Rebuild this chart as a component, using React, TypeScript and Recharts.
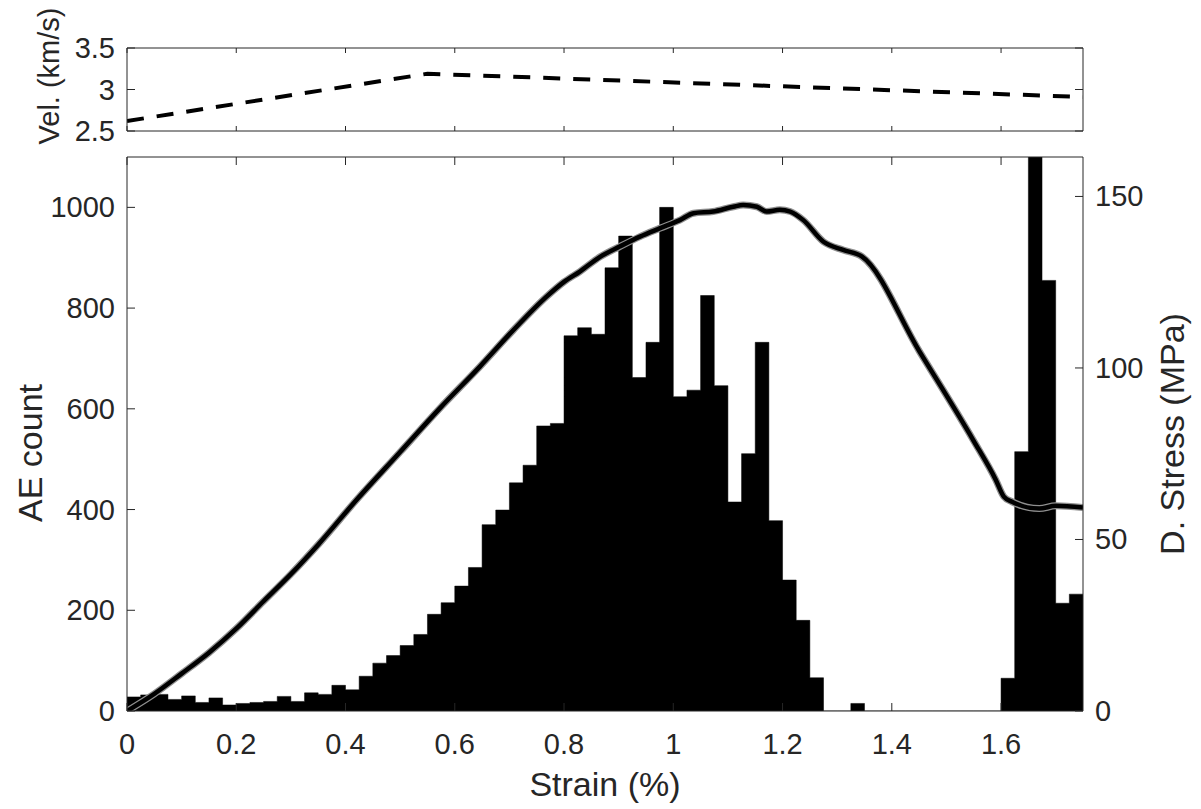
import React from 'react';
import { ComposedChart, Area, Line, XAxis, YAxis } from 'recharts';

// ---------- data ----------
const binEdges = [
  0, 0.025, 0.05, 0.075, 0.1, 0.125, 0.15, 0.175, 0.2, 0.225,
  0.25, 0.275, 0.3, 0.325, 0.35, 0.375, 0.4, 0.425, 0.45, 0.475,
  0.5, 0.525, 0.55, 0.575, 0.6, 0.625, 0.65, 0.675, 0.7, 0.725,
  0.75, 0.775, 0.8, 0.825, 0.85, 0.875, 0.9, 0.925, 0.95, 0.975,
  1.0, 1.025, 1.05, 1.075, 1.1, 1.125, 1.15, 1.175, 1.2, 1.225,
  1.25, 1.275, 1.3, 1.325, 1.35, 1.375, 1.4, 1.425, 1.45, 1.475,
  1.5, 1.525, 1.55, 1.575, 1.6, 1.625, 1.65, 1.675, 1.7, 1.725, 1.75,
];

const aeCounts = [
  28, 32, 33, 23, 30, 17, 26, 12, 15, 17,
  19, 29, 19, 36, 33, 51, 42, 69, 95, 110,
  130, 152, 192, 215, 248, 285, 370, 399, 453, 488,
  566, 571, 745, 761, 748, 880, 943, 662, 732, 1000,
  624, 637, 825, 646, 415, 511, 732, 378, 260, 180,
  66, 0, 0, 15, 0, 0, 0, 0, 0, 0,
  0, 0, 0, 0, 65, 515, 1250, 855, 214, 232,
];

const stressStrain = [
  0, 0.05, 0.1, 0.15, 0.2, 0.25, 0.3, 0.35, 0.42, 0.5,
  0.573, 0.646, 0.707, 0.768, 0.8, 0.829, 0.866, 0.902, 0.939, 0.975,
  1.012, 1.037, 1.073, 1.11, 1.128, 1.153, 1.171, 1.195, 1.214, 1.238,
  1.275, 1.311, 1.345, 1.45, 1.549, 1.59, 1.605, 1.62, 1.67, 1.7, 1.75,
];
const stressMPa = [
  0, 5, 10.9, 17, 24, 32, 39.9, 48.5, 61.5, 75.5,
  88.3, 100.4, 111, 120.8, 125.1, 128.1, 132.4, 135.4, 138.3, 140.7,
  143.1, 145.1, 145.6, 147, 147.5, 147, 145.6, 146.1, 145.6, 143.1,
  136.8, 134.4, 132.5, 105, 79, 67.5, 62.5, 61, 59, 59.8, 59.3,
];

const velStrain = [0, 0.55, 1.75];
const velKms = [2.62, 3.19, 2.91];

const strainTicks = [0, 0.2, 0.4, 0.6, 0.8, 1, 1.2, 1.4, 1.6];
const aeTicks = [0, 200, 400, 600, 800, 1000];
const stressTicks = [0, 50, 100, 150];
const velTicks = [2.5, 3, 3.5];

const histData = binEdges.map((e, i) => ({ strain: e, count: aeCounts[Math.min(i, aeCounts.length - 1)] }));
const stressData = stressStrain.map((s, i) => ({ strain: s, stress: stressMPa[i] }));
const velData = velStrain.map((s, i) => ({ strain: s, vel: velKms[i] }));

// ---------- style ----------
const INK = '#262626';
const FONT = '"Liberation Sans", Arial, Helvetica, sans-serif';
const TL = 8;
const FS = 29;
const TITLE_FS = 34;
const VEL_TITLE_FS = 29;
const fmt = (v: number) => String(v);

const makeTick = (side: 'bottom' | 'top' | 'left' | 'right', label: boolean, len: number) => (props: any) => {
  const { x, y, payload } = props;
  let x2 = x, y2 = y, tx = x, ty = y, anchor: any = 'middle';
  if (side === 'bottom') { y2 = y - len; ty = y + 33; }
  if (side === 'top') { y2 = y + len; }
  if (side === 'left') { x2 = x + len; tx = x - 12; anchor = 'end'; }
  if (side === 'right') { x2 = x - len; tx = x + 12; anchor = 'start'; }
  return (
    <g>
      <line x1={x} y1={y} x2={x2} y2={y2} stroke={INK} strokeWidth={1} />
      {label ? (
        <text x={tx} y={ty} textAnchor={anchor} dominantBaseline="central" fontSize={FS} fill={INK} fontFamily={FONT}>
          {fmt(payload.value)}
        </text>
      ) : null}
    </g>
  );
};

const W = 1201;
const H = 809;
const axisLine = { stroke: INK, strokeWidth: 1 };

export default function App() {
  return (
    <div style={{ position: 'absolute', left: 0, top: 0, width: W, height: H, background: '#fff' }}>
      {/* main panel */}
      <div style={{ position: 'absolute', left: 0, top: 0 }}>
        <ComposedChart width={W} height={H} margin={{ top: 156, right: 117, bottom: 97, left: 126 }}>
          <XAxis
            xAxisId="b" type="number" dataKey="strain" domain={[0, 1.75]} ticks={strainTicks} interval={0}
            allowDataOverflow height={1} tickSize={0} tickMargin={0} tickLine={false}
            axisLine={axisLine} tick={makeTick('bottom', true, TL)}
          />
          <XAxis
            xAxisId="t" orientation="top" type="number" dataKey="strain" domain={[0, 1.75]} ticks={strainTicks} interval={0}
            allowDataOverflow height={1} tickSize={0} tickMargin={0} tickLine={false}
            axisLine={axisLine} tick={makeTick('top', false, TL)}
          />
          <YAxis
            yAxisId="left" type="number" domain={[0, 1100]} ticks={aeTicks} interval={0} allowDataOverflow
            width={1} tickSize={0} tickMargin={0} tickLine={false} axisLine={axisLine}
            tick={makeTick('left', true, TL)}
          />
          <YAxis
            yAxisId="right" orientation="right" type="number" domain={[0, 161.5]} ticks={stressTicks} interval={0}
            allowDataOverflow width={1} tickSize={0} tickMargin={0} tickLine={false} axisLine={axisLine}
            tick={makeTick('right', true, TL)}
          />
          <Area
            xAxisId="b" yAxisId="left" data={histData} dataKey="count" type="stepAfter"
            fill="#000" fillOpacity={1} stroke="#000" strokeWidth={0.5}
            isAnimationActive={false} dot={false} activeDot={false}
          />
          <Line
            xAxisId="b" yAxisId="right" data={stressData} dataKey="stress" type="monotone"
            stroke="#8f8f8f" strokeWidth={7} strokeLinejoin="round" dot={false} activeDot={false} isAnimationActive={false}
          />
          <Line
            xAxisId="b" yAxisId="right" data={stressData} dataKey="stress" type="monotone"
            stroke="#000" strokeWidth={4.5} strokeLinejoin="round" dot={false} activeDot={false} isAnimationActive={false}
          />
        </ComposedChart>
      </div>

      {/* velocity panel */}
      <div style={{ position: 'absolute', left: 0, top: 0 }}>
        <ComposedChart width={W} height={160} margin={{ top: 47, right: 117, bottom: 28, left: 126 }}>
          <XAxis
            xAxisId="b" type="number" dataKey="strain" domain={[0, 1.75]} ticks={strainTicks} interval={0}
            allowDataOverflow height={1} tickSize={0} tickMargin={0} tickLine={false}
            axisLine={axisLine} tick={makeTick('bottom', false, 5)}
          />
          <XAxis
            xAxisId="t" orientation="top" type="number" dataKey="strain" domain={[0, 1.75]} ticks={strainTicks} interval={0}
            allowDataOverflow height={1} tickSize={0} tickMargin={0} tickLine={false}
            axisLine={axisLine} tick={makeTick('top', false, 5)}
          />
          <YAxis
            yAxisId="v" type="number" domain={[2.5, 3.5]} ticks={velTicks} interval={0} allowDataOverflow
            width={1} tickSize={0} tickMargin={0} tickLine={false} axisLine={axisLine}
            tick={makeTick('left', true, 8)}
          />
          <YAxis
            yAxisId="vr" orientation="right" type="number" domain={[2.5, 3.5]} ticks={velTicks} interval={0}
            allowDataOverflow width={1} tickSize={0} tickMargin={0} tickLine={false} axisLine={axisLine}
            tick={makeTick('right', false, 8)}
          />
          <Line
            xAxisId="b" yAxisId="v" data={velData} dataKey="vel" type="linear"
            stroke="#000" strokeWidth={4} strokeDasharray="17 13" dot={false} activeDot={false} isAnimationActive={false}
          />
        </ComposedChart>
      </div>

      {/* axis titles */}
      <svg width={W} height={H} style={{ position: 'absolute', left: 0, top: 0, pointerEvents: 'none' }}>
        <text x={605} y={784} textAnchor="middle" dominantBaseline="central" fontSize={TITLE_FS} fill={INK} fontFamily={FONT}>
          Strain (%)
        </text>
        <text transform="translate(30,453) rotate(-90)" textAnchor="middle" dominantBaseline="central" fontSize={TITLE_FS} fill={INK} fontFamily={FONT}>
          AE count
        </text>
        <text transform="translate(1172,434) rotate(-90)" textAnchor="middle" dominantBaseline="central" fontSize={TITLE_FS} fill={INK} fontFamily={FONT}>
          D. Stress (MPa)
        </text>
        <text transform="translate(49,76) rotate(-90)" textAnchor="middle" dominantBaseline="central" fontSize={VEL_TITLE_FS} fill={INK} fontFamily={FONT}>
          Vel. (km/s)
        </text>
      </svg>
    </div>
  );
}
